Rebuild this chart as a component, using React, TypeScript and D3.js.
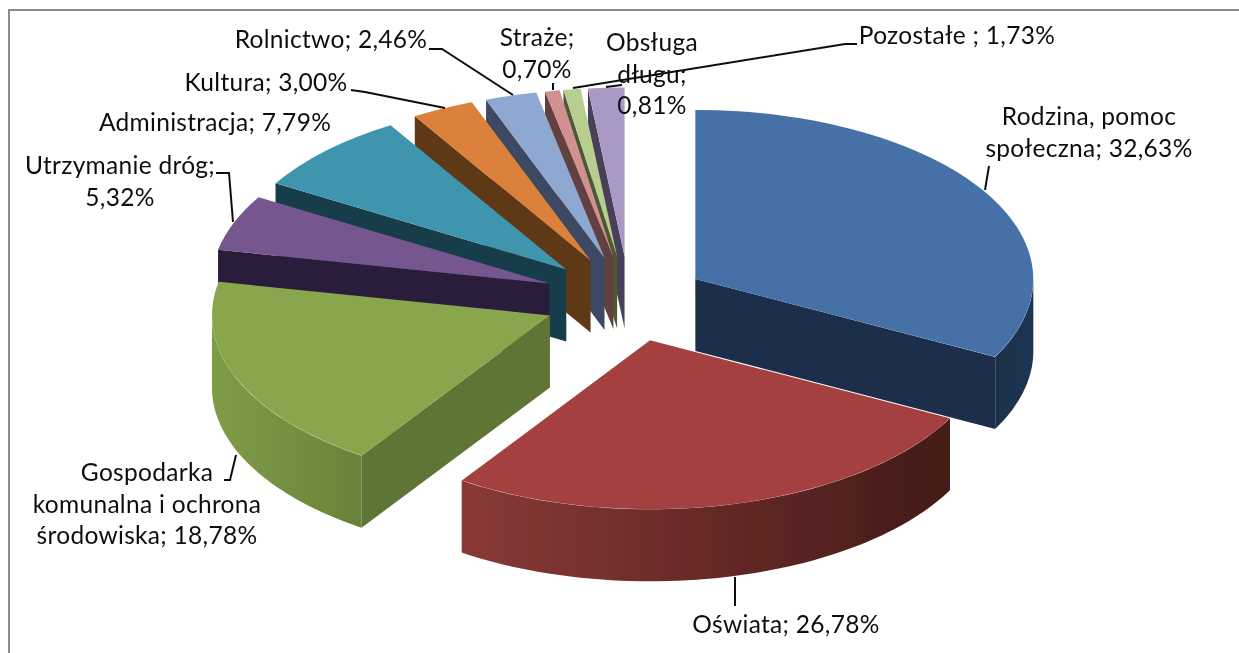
import React from "react";
import * as d3 from "d3";

const categories = ["Rodzina, pomoc społeczna","Oświata","Gospodarka komunalna i ochrona środowiska","Utrzymanie dróg","Administracja","Kultura","Rolnictwo","Straże","Obsługa długu","Pozostałe"];
const shares = [32.63,26.78,18.78,5.32,7.79,3.0,2.46,0.7,0.81,1.73];
const topColors = ["#4471a6","#a54140","#8aa64e","#75568f","#3f95ae","#dc813a","#8fa8d2","#d19190","#b8cd90","#aa98c5"];
const sideColors = ["#1b2f4a","#4a1c1a","#5e7435","#2c1f3b","#173c48","#5f3716","#3d4a63","#634140","#4c5a33","#474059"];
const rimLeftColors = ["#1b2f4a","#8a3937","#7f9c48","#2c1f3b","#173c48","#5f3716","#3d4a63","#634140","#4c5a33","#474059"];
const rimRightColors = ["#1f3554","#431a18","#6a8239","#2c1f3b","#173c48","#5f3716","#3d4a63","#634140","#4c5a33","#474059"];
const drawOrder = [9,8,7,6,5,4,3,0,2,1];
const nudges: [number,number][] = [[0,0],[4,1],[-1,0],[-1,-2],[-2,-2],[0,-3],[1,-3],[2,-3],[2,-3],[3,-3]];

const labelLines: string[][] = [
  ["Rodzina, pomoc","społeczna; 32,63%"],["Oświata; 26,78%"],["Gospodarka","komunalna i ochrona","środowiska; 18,78%"],
  ["Utrzymanie dróg;","5,32%"],["Administracja; 7,79%"],["Kultura; 3,00%"],["Rolnictwo; 2,46%"],["Straże;","0,70%"],["Obsługa","długu;","0,81%"],["Pozostałe ; 1,73%"],
];
const labelAnchors: [number,number][] = [[1089,119],[786,627],[147,475],[120,168],[215,125],[266,85],[331,42],[537,40],[652,45],[957,38]];
const leaders: [number,number][][] = [
  [[985,190],[989,166]],
  [[735,577],[735,606]],
  [[236,455],[230,480],[224,480]],
  [[233,222],[229,173],[216,173]],
  [[445,108],[365,92],[351,90]],
  [[513,95],[442,49],[429,49]],
  [[553,90],[553,83]],
  [[606,87],[622,85]],
  [[573,88],[845,44],[857,44]],
];

const cx = 626, cy = 300, rx = 338, ry = 169, explode = 0.24, depth = 72;

export default function App() {
  const arcs = d3.pie<number>().sort(null).value(d => d)(shares);
  const px = d3.scaleLinear().domain([-1,1]).range([cx-rx,cx+rx]);
  const py = d3.scaleLinear().domain([-1,1]).range([cy-ry,cy+ry]);
  const top = d3.arc<any>().innerRadius(0).outerRadius(1);
  const line = d3.line();
  const pieces = arcs.map((a,i) => {
    const mid = (a.startAngle+a.endAngle)/2;
    const ox = px(explode*Math.sin(mid))+nudges[i][0], oy = py(-explode*Math.cos(mid))+nudges[i][1];
    const pt = (t:number):[number,number] => [ox+rx*Math.sin(t), oy-ry*Math.cos(t)];
    const face = (t:number) => {
      const p = pt(t);
      return line([[ox,oy],p,[p[0],p[1]+depth],[ox,oy+depth]]);
    };
    const faces:string[] = [];
    if (Math.sin(a.startAngle) < -1e-6) faces.push(face(a.startAngle)!);
    if (Math.sin(a.endAngle) > 1e-6) faces.push(face(a.endAngle)!);
    const s = Math.max(a.startAngle, Math.PI/2), e = Math.min(a.endAngle, Math.PI*1.5);
    let rim: string|null = null;
    let gx0=0, gx1=1;
    if (e > s) {
      const ts = d3.range(0,61).map(k => s+(e-s)*k/60);
      rim = d3.area<number>().x(t=>pt(t)[0]).y0(t=>pt(t)[1]).y1(t=>pt(t)[1]+depth)(ts);
      const xs = ts.map(t=>pt(t)[0]);
      gx0 = d3.min(xs)!; gx1 = d3.max(xs)!;
    }
    return {i,a,ox,oy,faces,rim,gx0,gx1};
  });
  return (
    <svg width={1239} height={653} style={{position:"fixed",left:0,top:0,background:"#fff"}}>
      <defs>
        {pieces.map(p => (
          <linearGradient key={p.i} id={`rim${p.i}`} gradientUnits="userSpaceOnUse" x1={p.gx0} x2={p.gx1} y1={0} y2={0}>
            <stop offset="0" stopColor={rimLeftColors[p.i]} />
            <stop offset="1" stopColor={rimRightColors[p.i]} />
          </linearGradient>
        ))}
        <filter id="soft" x="0" y="0" width="100%" height="100%" filterUnits="userSpaceOnUse">
          <feGaussianBlur stdDeviation="0.5" />
        </filter>
      </defs>
      <g filter="url(#soft)">
        <polyline points="9,653 9,10 1239,10" fill="none" stroke="#8c8c8c" strokeWidth={2} />
        {drawOrder.map(k => {
          const p = pieces[k];
          return (
            <g key={k}>
              {p.faces.map((d,j) => <path key={j} d={d} fill={sideColors[k]} />)}
              {p.rim && <path d={p.rim} fill={`url(#rim${k})`} />}
              <path d={top({startAngle:p.a.startAngle,endAngle:p.a.endAngle})!} transform={`translate(${p.ox},${p.oy}) scale(${rx},${ry})`} fill={topColors[k]} />
            </g>
          );
        })}
        {leaders.map((l,i) => <path key={i} d={line(l)!} fill="none" stroke="#111" strokeWidth={2} />)}
        <g fontFamily="Lato, 'Open Sans', sans-serif" fontSize={24.5} letterSpacing={0.3} fill="#111" textAnchor="middle">
          {labelLines.map((ls,i) => ls.map((t,j) => (
            <text key={`${i}-${j}`} x={labelAnchors[i][0]} y={labelAnchors[i][1]+j*31.5} dominantBaseline="middle">{t}</text>
          )))}
        </g>
      </g>
    </svg>
  );
}
